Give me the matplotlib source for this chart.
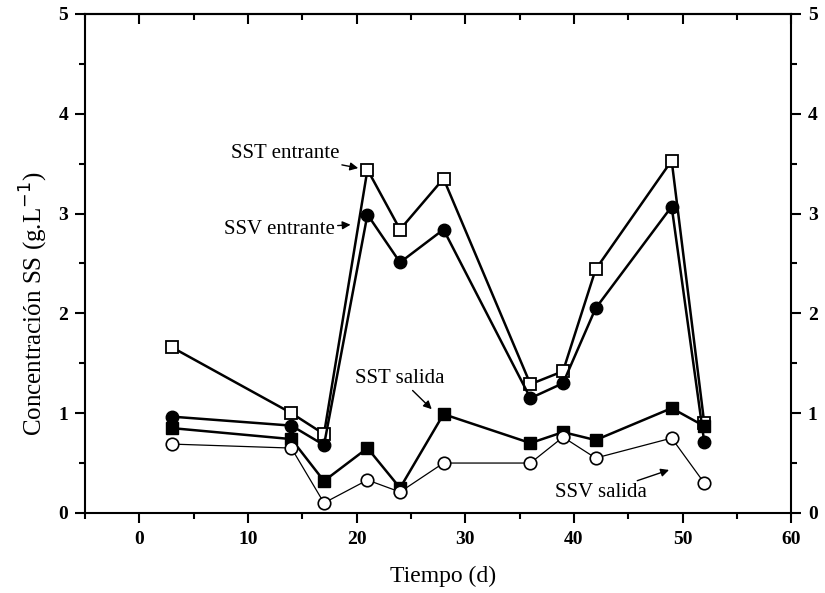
import matplotlib.pyplot as plt
from matplotlib.ticker import MultipleLocator

plt.rcParams['font.family'] = ['Liberation Serif', 'DejaVu Serif']

# days of sampling
dias = [3, 14, 17, 21, 24, 28, 36, 39, 42, 49, 52]

# suspended solids, g/L
sst_entrante = [1.66, 1.00, 0.79, 3.44, 2.84, 3.35, 1.29, 1.42, 2.44, 3.53, 0.90]
ssv_entrante = [0.965, 0.875, 0.68, 2.99, 2.51, 2.84, 1.15, 1.30, 2.05, 3.07, 0.71]
sst_salida = [0.85, 0.74, 0.32, 0.65, 0.25, 0.99, 0.70, 0.81, 0.73, 1.05, 0.87]
ssv_salida = [0.69, 0.65, 0.10, 0.33, 0.21, 0.50, 0.50, 0.76, 0.55, 0.75, 0.30]

fig = plt.figure(figsize=(8.25, 5.93), dpi=100)
ax = fig.add_axes([0.103, 0.135, 0.856, 0.8415])

ms = 8.5
ax.plot(dias, sst_entrante, '-s', color='black', lw=1.8, ms=ms,
        markerfacecolor='white', markeredgewidth=1.3, zorder=3)
ax.plot(dias, ssv_entrante, '-o', color='black', lw=1.8, ms=ms + 0.5, zorder=3)
ax.plot(dias, sst_salida, '-s', color='black', lw=1.8, ms=ms, zorder=4)
ax.plot(dias, ssv_salida, '-o', color='black', lw=0.9, ms=ms + 0.5,
        markerfacecolor='white', markeredgewidth=1.2, zorder=4)

# labels with arrows
arr = dict(arrowstyle='-|>', color='black', lw=1.0, mutation_scale=12,
           shrinkA=0, shrinkB=2)
fs = 15
ax.annotate('SST entrante', xy=(20.4, 3.45), xytext=(13.4, 3.6),
            ha='center', va='center', fontsize=fs, arrowprops=arr)
ax.annotate('SSV entrante', xy=(19.7, 2.89), xytext=(12.9, 2.84),
            ha='center', va='center', fontsize=fs, arrowprops=arr)
ax.annotate('SST salida', xy=(27.1, 1.02), xytext=(24.0, 1.35),
            ha='center', va='center', fontsize=fs, arrowprops=arr)
ax.annotate('SSV salida', xy=(49.0, 0.44), xytext=(42.5, 0.20),
            ha='center', va='center', fontsize=fs, arrowprops=arr)

ax.set_xlim(-5, 60)
ax.set_ylim(0, 5)
ax.xaxis.set_major_locator(MultipleLocator(10))
ax.xaxis.set_minor_locator(MultipleLocator(5))
ax.yaxis.set_major_locator(MultipleLocator(1))
ax.yaxis.set_minor_locator(MultipleLocator(0.5))

ax.tick_params(which='both', direction='out', width=1.5, labelsize=14,
               right=True, labelright=True, top=False)
ax.tick_params(which='major', length=7)
ax.tick_params(which='minor', length=4)
ax.tick_params(axis='x', which='major', pad=6)
ax.tick_params(axis='y', which='major', pad=5)
for t in ax.xaxis.get_major_ticks():
    t.label1.set_fontweight('bold')
for t in ax.yaxis.get_major_ticks():
    t.label1.set_fontweight('bold')
    t.label2.set_fontweight('bold')

# top axis: ticks pointing in, no labels
top = ax.secondary_xaxis('top')
top.xaxis.set_major_locator(MultipleLocator(10))
top.xaxis.set_minor_locator(MultipleLocator(5))
top.tick_params(which='both', direction='in', width=1.5, labeltop=False)
top.tick_params(which='major', length=7)
top.tick_params(which='minor', length=4)
top.spines['top'].set_linewidth(1.5)

for s in ax.spines.values():
    s.set_linewidth(1.5)

ax.set_xlabel('Tiempo (d)', fontsize=17)
ax.set_ylabel('Concentración SS (g.L$^{-1}$)', fontsize=18)
ax.xaxis.set_label_coords(0.507, -0.105)
ax.yaxis.set_label_coords(-0.05, 0.42)

fig.savefig('out.png', dpi=100)
